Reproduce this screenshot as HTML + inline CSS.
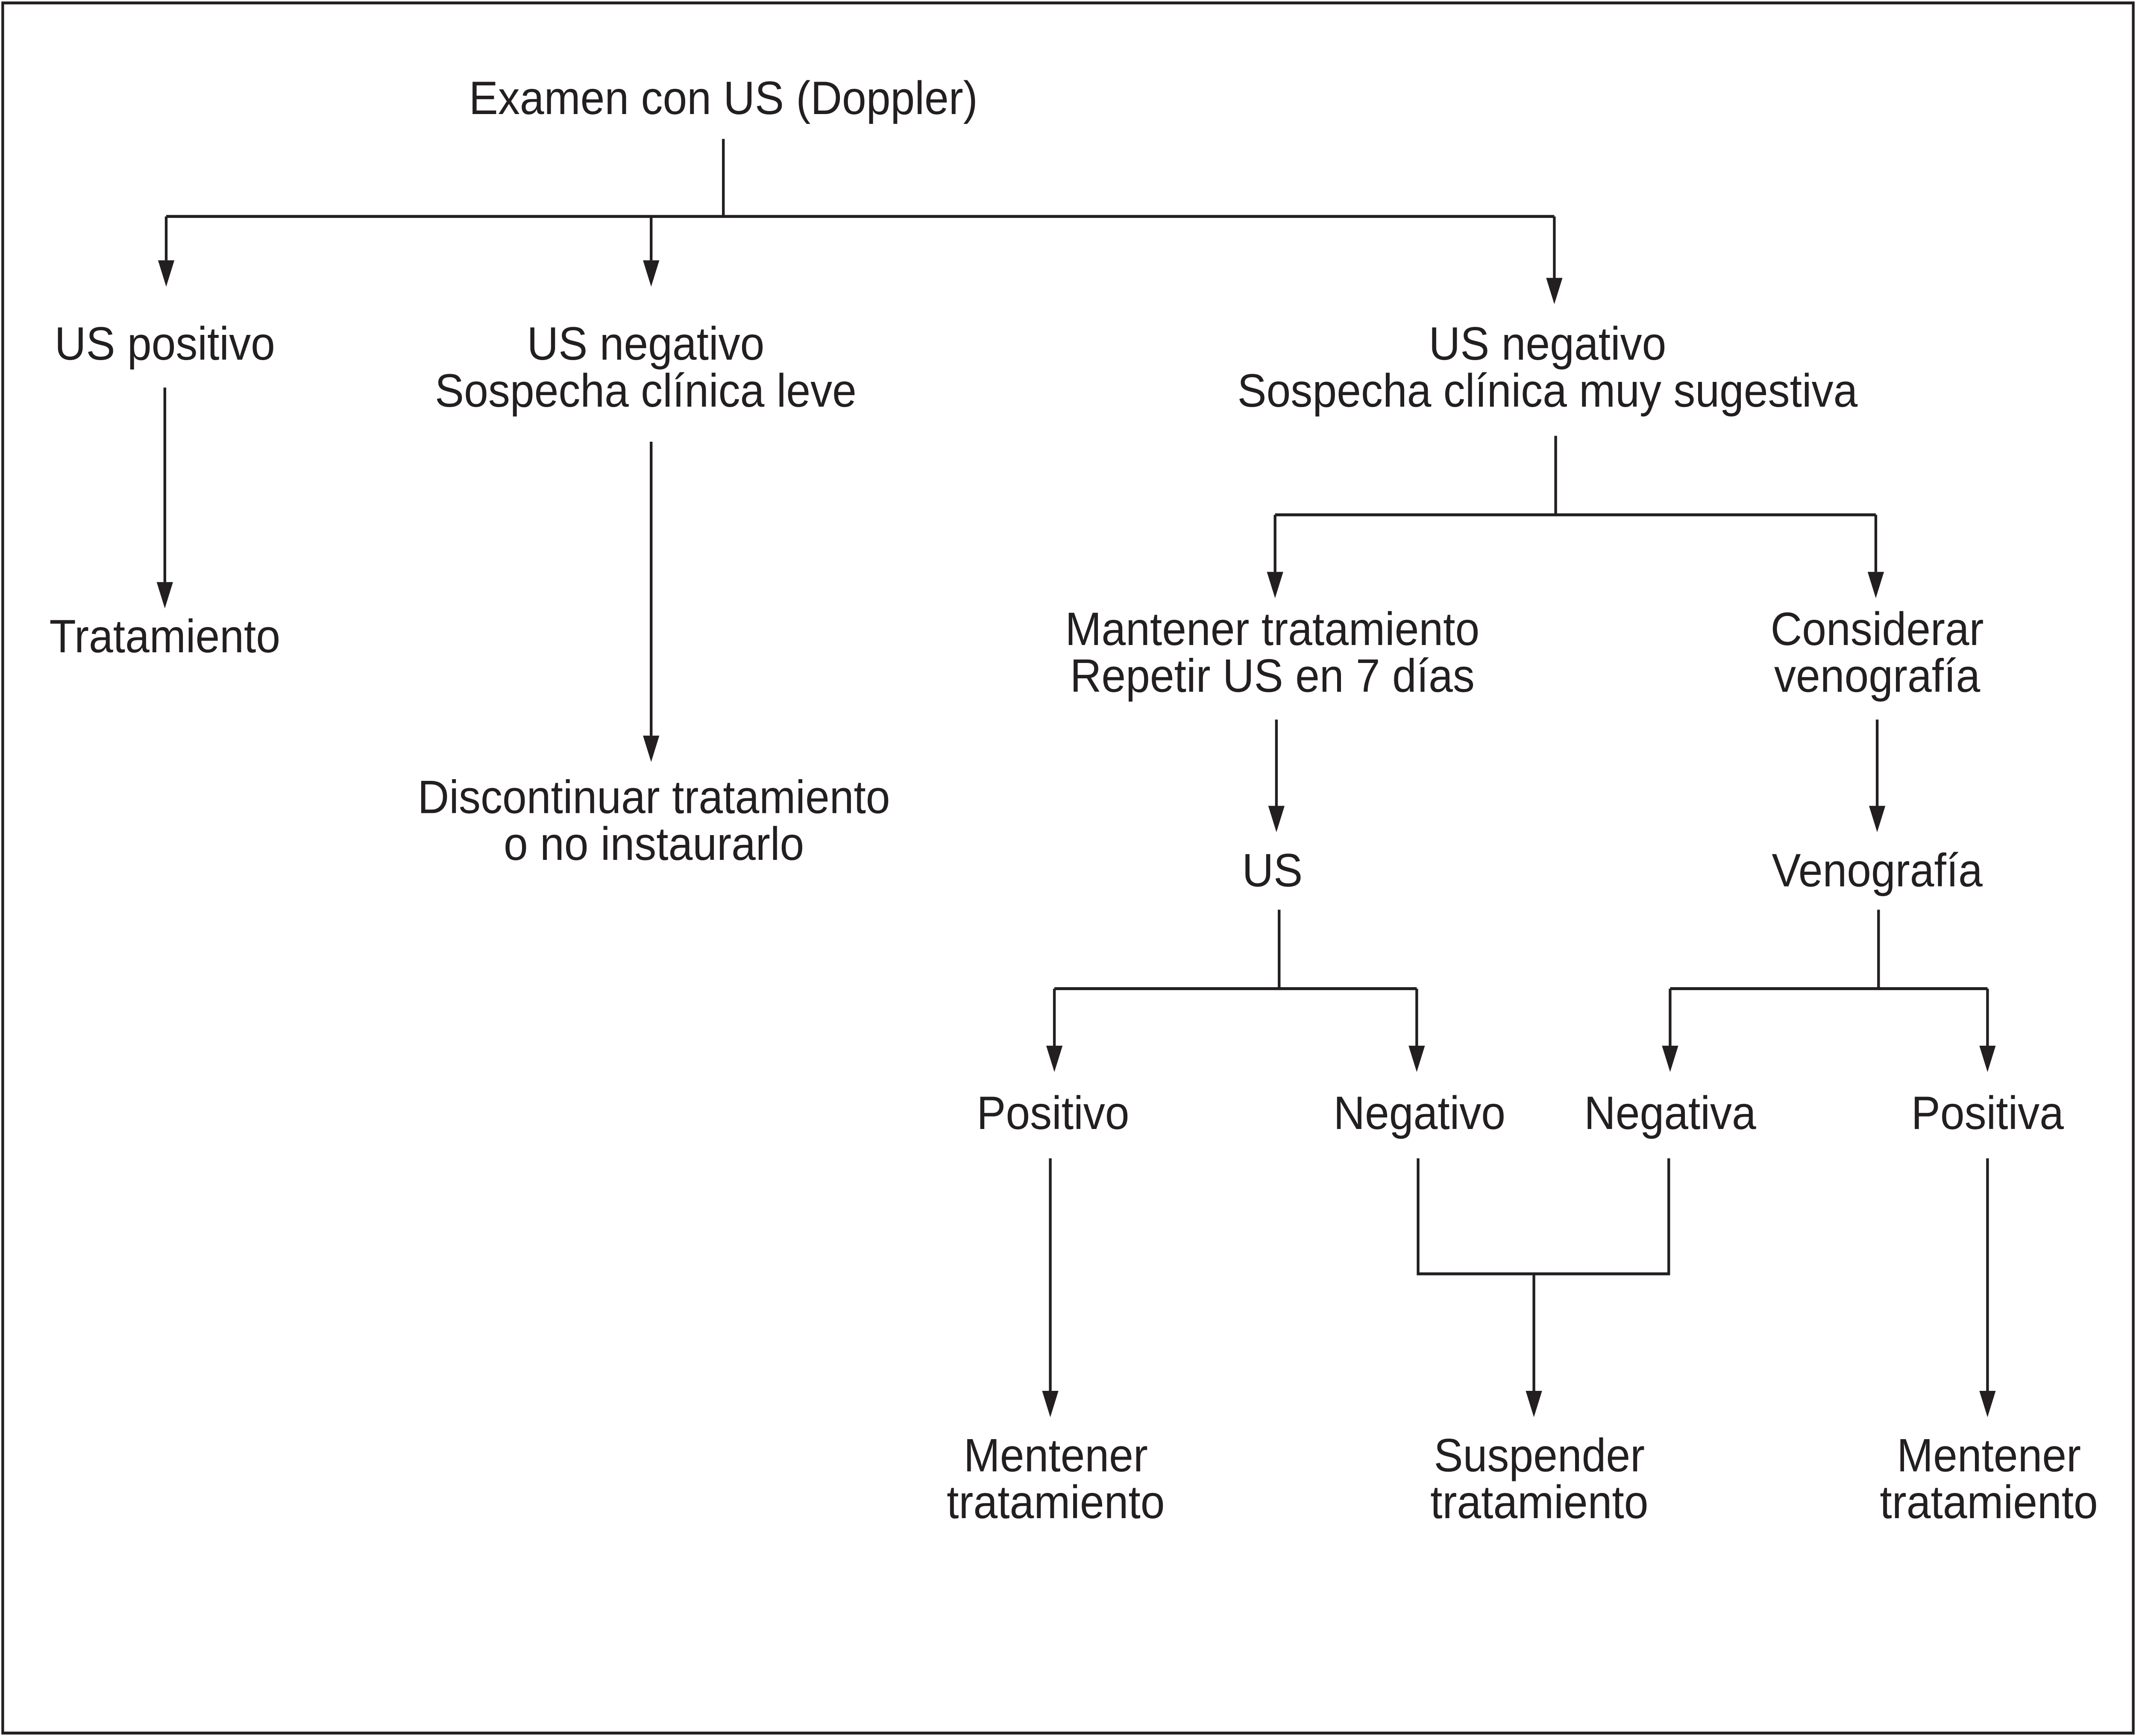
<!DOCTYPE html>
<html><head><meta charset="utf-8"><style>html,body{margin:0;padding:0;background:#fff;overflow:hidden;width:100%;height:100%}svg{display:block;width:100vw;height:100vh}</style></head>
<body>
<svg xmlns="http://www.w3.org/2000/svg" viewBox="0 0 1568 1187" preserveAspectRatio="none">
<rect x="2" y="2" width="1564" height="1183" fill="#fff" stroke="#231f20" stroke-width="2"/>
<g stroke="#231f20" stroke-width="2" fill="none">
<path d="M531,95 V148 M122,148 H1141"/>
<path d="M122,148 V178 M478,148 V178 M1141,148 V190" />
<path d="M121,265 V398 M478,302 V503"/>
<path d="M1142,298 V352 M936,352 H1377 M936,352 V391 M1377,352 V391"/>
<path d="M937,492 V551 M1378,492 V551"/>
<path d="M939,622 V676 M774,676 H1040 M774,676 V715 M1040,676 V715"/>
<path d="M1379,622 V676 M1226,676 H1459 M1226,676 V715 M1459,676 V715"/>
<path d="M771,792 V951 M1041,792 V871 H1225 V792 M1126,871 V951 M1459,792 V951"/>
</g>
<g fill="#231f20">
<path d="M116,178 h12 l-6,18 z"/><path d="M472,178 h12 l-6,18 z"/><path d="M1135,190 h12 l-6,18 z"/>
<path d="M115,398 h12 l-6,18 z"/><path d="M472,503 h12 l-6,18 z"/>
<path d="M930,391 h12 l-6,18 z"/><path d="M1371,391 h12 l-6,18 z"/>
<path d="M931,551 h12 l-6,18 z"/><path d="M1372,551 h12 l-6,18 z"/>
<path d="M768,715 h12 l-6,18 z"/><path d="M1034,715 h12 l-6,18 z"/><path d="M1220,715 h12 l-6,18 z"/><path d="M1453,715 h12 l-6,18 z"/>
<path d="M765,951 h12 l-6,18 z"/><path d="M1120,951 h12 l-6,18 z"/><path d="M1453,951 h12 l-6,18 z"/>
</g>
<g font-family="Liberation Sans, Arial, sans-serif" font-size="32" fill="#231f20" text-anchor="middle">
<text x="531" y="78">Examen con US (Doppler)</text>
<text x="121" y="246">US positivo</text>
<text x="474" y="246">US negativo</text><text x="474" y="278">Sospecha clínica leve</text>
<text x="1136" y="246">US negativo</text><text x="1136" y="278">Sospecha clínica muy sugestiva</text>
<text x="121" y="446">Tratamiento</text>
<text x="480" y="556">Discontinuar tratamiento</text><text x="480" y="588">o no instaurarlo</text>
<text x="934" y="441">Mantener tratamiento</text><text x="934" y="473">Repetir US en 7 días</text>
<text x="1378" y="441">Considerar</text><text x="1378" y="473">venografía</text>
<text x="934" y="606">US</text><text x="1378" y="606">Venografía</text>
<text x="773" y="772">Positivo</text><text x="1042" y="772">Negativo</text><text x="1226" y="772">Negativa</text><text x="1459" y="772">Positiva</text>
<text x="775" y="1006">Mentener</text><text x="775" y="1038">tratamiento</text>
<text x="1130" y="1006">Suspender</text><text x="1130" y="1038">tratamiento</text>
<text x="1460" y="1006">Mentener</text><text x="1460" y="1038">tratamiento</text>
</g>
</svg>
</body></html>
